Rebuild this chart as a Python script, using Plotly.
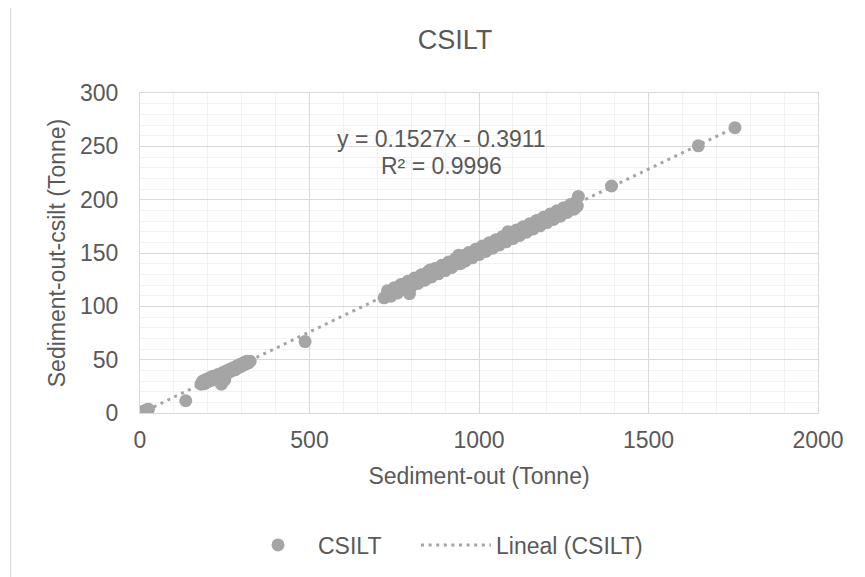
import plotly.graph_objects as go

# ---- data ----
sediment_out = [
    0, 2, 4, 6, 8, 10, 13, 16, 19, 22, 25,
    135,
    180, 185, 190, 195, 200, 205, 210, 215, 220, 230, 235, 240, 245, 250, 250,
    255, 260, 265, 270, 275, 280, 285, 290, 295, 300, 305, 310, 315, 320, 325,
    487,
    720, 730, 740, 750, 760, 770, 780, 790, 795, 800, 810, 820, 830, 840, 850,
    855, 860, 870, 880, 890, 900, 910, 920, 930, 940, 945, 950, 960, 970, 980,
    990, 1000, 1010, 1020, 1030, 1040, 1050, 1060, 1070, 1080, 1086, 1090, 1100,
    1110, 1120, 1130, 1140, 1150, 1160, 1170, 1180, 1190, 1200, 1210, 1220, 1230,
    1240, 1250, 1260, 1270, 1280, 1285, 1290, 1293,
    1391, 1647, 1755,
]
sediment_csilt = [
    0, 0.3, 0.5, 0.8, 1.1, 1.4, 1.8, 2.3, 2.7, 3.1, 3.5,
    11.5,
    27, 30, 27.5, 31.5, 29.5, 33, 30.5, 34.5, 32.5, 36, 33.5, 27, 38, 35.5, 31,
    39.5, 37.5, 41, 39.5, 42.5, 40.5, 44, 42.5, 45.5, 44, 47, 45.5, 48.5, 47, 48.5,
    67,
    108, 114.5, 109.5, 117.5, 112.5, 120.5, 115.5, 123.5, 112, 118.5, 126.5, 121.5, 129.5, 124.5, 132.5,
    134, 127.5, 135.5, 130.5, 138.5, 133.5, 141.5, 136.5, 144.5, 148, 140, 147.5, 142.5, 150.5, 145.5,
    153.5, 148.5, 156.5, 151.5, 159.5, 154.5, 162.5, 157.5, 165.5, 160.5, 170, 168.5, 163.5,
    171.5, 166.5, 174.5, 169.5, 177.5, 172.5, 180.5, 175.5, 183.5, 178.5, 186.5, 181.5, 189.5,
    184.5, 192.5, 188, 195.5, 191, 197.5, 194, 203,
    212.8, 250.5, 267.5,
]
slope = 0.1527
intercept = -0.3911
r_squared = 0.9996

series_name = "CSILT"
trend_name = "Lineal (CSILT)"
chart_title = "CSILT"
x_title = "Sediment-out (Tonne)"
y_title = "Sediment-out-csilt (Tonne)"
x_ticks = [0, 500, 1000, 1500, 2000]
y_ticks = [0, 50, 100, 150, 200, 250, 300]

# ---- styling ----
TXT = "#595959"
GRAY = "#A5A5A5"
MAJOR = "#D9D9D9"
MINOR = "#F2F2F2"
FONT = "Liberation Sans, Arial, sans-serif"

# the page is drawn with an 8px body margin, so figure px = screen px - 8
OFF = 8
W, H = 865 - OFF, 577 - OFF
PL, PR, PT, PB = 140 - OFF, 818 - OFF, 93 - OFF, 413 - OFF  # plot box in figure px
PW, PH = PR - PL, PB - PT


def px_to_paper_x(px):
    return (px - OFF - PL) / PW


def px_to_paper_y(py):
    return (PB - (py - OFF)) / PH


trend_x = [min(sediment_out), max(sediment_out)]
trend_y = [slope * v + intercept for v in trend_x]

fig = go.Figure()
fig.add_trace(go.Scatter(
    x=sediment_out, y=sediment_csilt, mode="markers", name=series_name,
    marker=dict(size=13, color=GRAY, line=dict(width=0)), legend="legend",
))
fig.add_trace(go.Scatter(
    x=trend_x, y=trend_y, mode="lines", name=trend_name,
    line=dict(color=GRAY, width=3, dash="3px,4.6px"), legend="legend2",
))

axis_common = dict(
    showgrid=True, gridcolor=MAJOR, gridwidth=1,
    showline=True, linecolor=MAJOR, linewidth=1, mirror=True,
    zeroline=False, ticks="",
    tickfont=dict(size=23, color=TXT, family=FONT),
)
fig.update_xaxes(
    range=[0, 2000], tickvals=x_ticks, ticktext=[str(v) for v in x_ticks],
    minor=dict(dtick=100, showgrid=True, gridcolor=MINOR, gridwidth=1),
    title=dict(text=x_title, font=dict(size=23, color=TXT, family=FONT), standoff=16),
    ticklabelstandoff=6,
    **axis_common,
)
fig.update_yaxes(
    range=[0, 300], tickvals=y_ticks, ticktext=[str(v) for v in y_ticks],
    minor=dict(dtick=10, showgrid=True, gridcolor=MINOR, gridwidth=1),
    title=dict(text=y_title, font=dict(size=23, color=TXT, family=FONT), standoff=7),
    ticklabelstandoff=16,
    **axis_common,
)

eq_sign = "-" if intercept < 0 else "+"
fig.add_annotation(
    xref="paper", yref="paper", x=px_to_paper_x(441), y=px_to_paper_y(139),
    text=f"y = {slope}x {eq_sign} {abs(intercept)}", showarrow=False,
    font=dict(size=23, color=TXT, family=FONT), xanchor="center", yanchor="middle",
)
fig.add_annotation(
    xref="paper", yref="paper", x=px_to_paper_x(441), y=px_to_paper_y(166),
    text=f"R² = {r_squared}", showarrow=False,
    font=dict(size=23, color=TXT, family=FONT), xanchor="center", yanchor="middle",
)

# outer chart border (Excel chart area frame)
fig.add_shape(
    type="rect", xref="paper", yref="paper",
    x0=px_to_paper_x(10.5), x1=px_to_paper_x(900),
    y0=px_to_paper_y(620), y1=px_to_paper_y(6.5),
    line=dict(color=MAJOR, width=1), fillcolor="rgba(0,0,0,0)", layer="below",
)

legend_common = dict(
    orientation="h", xref="container", yref="container",
    xanchor="left", y=1 - (545 - OFF) / H, yanchor="middle",
    font=dict(size=23, color=TXT, family=FONT),
    bgcolor="rgba(0,0,0,0)", itemwidth=70,
)

fig.update_layout(
    width=W, height=H,
    margin=dict(l=PL, r=W - PR, t=PT, b=H - PB),
    paper_bgcolor="white", plot_bgcolor="white",
    font=dict(family=FONT, color=TXT),
    title=dict(text=chart_title, x=(455 - OFF) / W, xanchor="center",
               y=1 - (40 - OFF) / H, yanchor="middle",
               font=dict(size=27, color=TXT, family=FONT)),
    showlegend=True,
    legend=dict(x=(238 - OFF) / W, **legend_common),
    legend2=dict(x=(416 - OFF) / W, **legend_common),
)

fig.write_html("out.html")
